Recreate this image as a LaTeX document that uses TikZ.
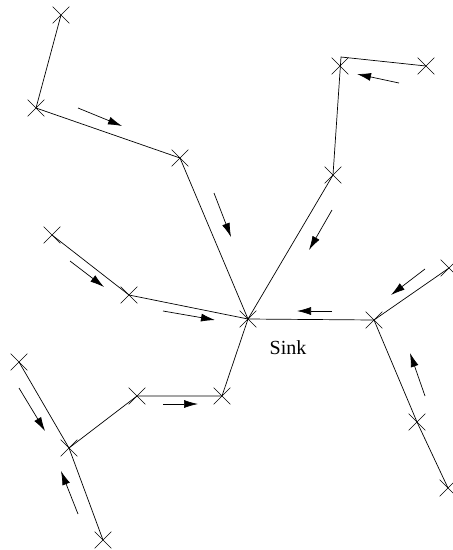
\documentclass[tikz,border=0pt]{standalone}
\usepackage{fontspec}
\setmainfont{Liberation Serif}
\usetikzlibrary{arrows.meta,shapes.misc}

\tikzset{
  site/.style={draw, cross out, minimum size=16pt, inner sep=0pt, line width=0.6pt},
  link/.style={line width=0.7pt},
  flow/.style={line width=0.7pt, -{Latex[length=14pt,width=8pt]}}
}

\begin{document}
\begin{tikzpicture}[x=1pt, y=-1pt]
\useasboundingbox (0,0) rectangle (453,550);
% sensor sites
\node[site] (sink) at (248,319) {};
\node[site] (a1) at (61,15) {};
\node[site] (a2) at (36,108) {};
\node[site] (a3) at (180,158) {};
\node[site] (b1) at (340,66) {};
\coordinate (b1c) at (341,57);
\node[site] (b2) at (426,66) {};
\node[site] (b3) at (333,175) {};
\node[site] (c1) at (52,235) {};
\node[site] (c2) at (129,295) {};
\node[site] (d1) at (19,362) {};
\node[site] (d2) at (69,448) {};
\node[site] (d3) at (103,540) {};
\node[site] (d4) at (137,396) {};
\node[site] (d5) at (222,396) {};
\node[site] (e1) at (374,320) {};
\node[site] (e2) at (449,268) {};
\node[site] (e3) at (417,422) {};
\node[site] (e4) at (448,488) {};
\node[font=\fontsize{20}{23}\selectfont] (lbl) at (288,348) {Sink};
% routing tree
\draw[link] (a1.center) -- (a2.center) -- (a3.center) -- (sink.center);
\draw[link] (b2.center) -- (b1c) -- (b3.center) -- (sink.center);
\draw[link] (c1.center) -- (c2.center) -- (sink.center);
\draw[link] (d1.center) -- (d2.center) -- (d3.center);
\draw[link] (d2.center) -- (d4.center) -- (d5.center) -- (sink.center);
\draw[link] (e2.center) -- (e1.center) -- (sink.center);
\draw[link] (e1.center) -- (e3.center) -- (e4.center);
% data flow
\draw[flow] (78,108) -- (122,126);
\draw[flow] (214,193) -- (231,237);
\draw[flow] (399,83) -- (357,74);
\draw[flow] (332,210) -- (309,250);
\draw[flow] (70,261) -- (104,287);
\draw[flow] (163,311) -- (215,320);
\draw[flow] (163,404) -- (198,404);
\draw[flow] (19,388) -- (45,431);
\draw[flow] (78,514) -- (61,471);
\draw[flow] (332,311) -- (297,311);
\draw[flow] (425,269) -- (391,295);
\draw[flow] (425,396) -- (410,353);
\end{tikzpicture}
\end{document}
